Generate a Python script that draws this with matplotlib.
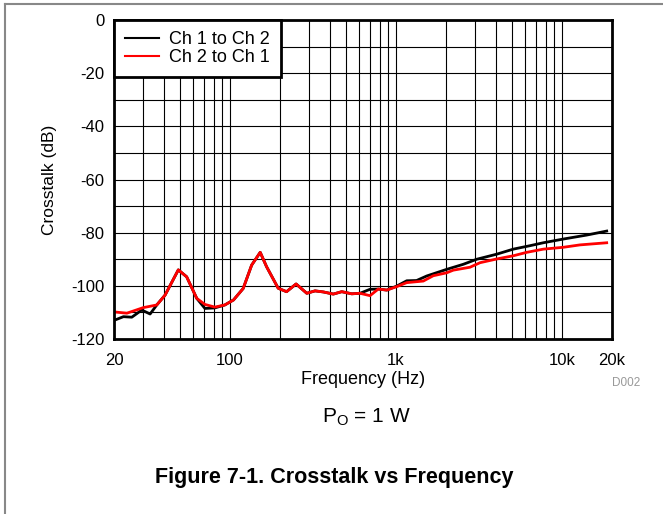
import matplotlib
matplotlib.use("Agg")
import matplotlib.pyplot as plt
from matplotlib.lines import Line2D
from matplotlib.ticker import FixedLocator, NullFormatter

plt.rcParams['font.family'] = ['Liberation Sans', 'DejaVu Sans']
plt.rcParams['axes.unicode_minus'] = False

# Ch 1 to Ch 2 (black)
freq_12 = [20, 22.8, 25.6, 29.4, 33, 36.2, 40.6, 48.8, 54.8, 63, 70.6, 81, 93, 105,
           120, 135, 152, 166, 195, 219, 250, 290, 325, 365, 419, 471, 541, 607,
           697, 782, 879, 1009, 1160, 1330, 1530, 2019, 2542, 3062, 4038, 5083,
           6412, 7710, 10180, 14090, 18580]
db_12 = [-113, -111.6, -111.8, -109.1, -110.6, -107.2, -103.5, -94.0, -96.6, -104.7,
         -108.5, -108.3, -107.2, -105.3, -101, -92.2, -87.4, -92.8, -100.9, -102.2,
         -99.3, -102.8, -101.9, -102.3, -103.1, -102.2, -103.0, -102.8, -101.3,
         -101.2, -101.6, -100.1, -98.1, -98.0, -96.3, -93.8, -91.9, -90.0, -88.1,
         -86.2, -84.9, -83.8, -82.4, -80.9, -79.4]

# Ch 2 to Ch 1 (red)
freq_21 = [20, 23.9, 30, 36.2, 40.6, 48.8, 54.8, 63, 70.6, 81, 93, 105, 120, 135,
           152, 166, 195, 219, 250, 290, 325, 365, 419, 471, 541, 607, 697, 782,
           879, 1009, 1160, 1460, 1676, 2019, 2214, 2790, 3206, 4038, 5083, 6125,
           7710, 10180, 12820, 18580]
db_21 = [-109.8, -110.3, -108.2, -107.2, -103.5, -94.0, -96.6, -104.7, -107, -108,
         -107.2, -105.3, -101, -92.2, -87.4, -92.8, -100.9, -102.2, -99.3, -102.8,
         -101.9, -102.3, -103.1, -102.2, -103.0, -102.8, -103.7, -101.2, -101.6,
         -100.3, -98.8, -98.2, -96.2, -95.1, -94.1, -93.0, -91.3, -89.9, -88.7,
         -87.4, -86.2, -85.5, -84.6, -83.8]

x_labels = {20: '20', 100: '100', 1000: '1k', 10000: '10k', 20000: '20k'}
x_grid = [20, 30, 40, 50, 60, 70, 80, 90, 100, 200, 300, 400, 500, 600, 700, 800, 900,
          1000, 2000, 3000, 4000, 5000, 6000, 7000, 8000, 9000, 10000, 20000]
y_ticks = [-120, -100, -80, -60, -40, -20, 0]
y_grid = [-110, -90, -70, -50, -30, -10]

fig = plt.figure(figsize=(6.63, 5.14), dpi=100)
ax = fig.add_axes([114 / 663, 1 - 339 / 514, 498 / 663, 319 / 514])

ax.plot(freq_12, db_12, color='black', lw=2, label='Ch 1 to Ch 2')
ax.plot(freq_21, db_21, color='#ff0000', lw=2, label='Ch 2 to Ch 1')

ax.set_xscale('log')
ax.set_xlim(20, 20000)
ax.set_ylim(-120, 0)
ax.set_xticks(list(x_labels.keys()))
ax.set_xticklabels(list(x_labels.values()))
ax.xaxis.set_minor_formatter(NullFormatter())
ax.xaxis.set_minor_locator(FixedLocator(x_grid))
ax.set_yticks(y_ticks)
ax.yaxis.set_minor_locator(FixedLocator(y_grid))
ax.grid(True, which='both', color='black', lw=0.8)
ax.tick_params(which='both', length=0, labelsize=12)
ax.tick_params(axis='y', pad=7)
ax.tick_params(axis='x', pad=10)
for s in ax.spines.values():
    s.set_linewidth(2)

ax.set_xlabel('Frequency (Hz)', fontsize=13, labelpad=2)
ax.set_ylabel('Crosstalk (dB)', fontsize=12.5, labelpad=10)

leg = ax.legend(loc='upper left', fontsize=13, borderaxespad=0, fancybox=False,
                framealpha=1, edgecolor='black', handlelength=1.9, handletextpad=0.55,
                borderpad=0.6, labelspacing=0.08)
leg.get_frame().set_linewidth(2)
for h in leg.get_lines():
    h.set_linewidth(1.5)

fig.text(640 / 663, 1 - 383 / 514, 'D002', fontsize=8.5, color='#999999',
         ha='right', va='center')
fig.text(366 / 663, 1 - 417 / 514, r'P$_\mathregular{O}$ = 1 W', fontsize=15,
         ha='center', va='center')
fig.text(334 / 663, 1 - 477 / 514, 'Figure 7-1. Crosstalk vs Frequency', fontsize=15.5,
         fontweight='bold', ha='center', va='center')

# frame of the figure box (left and top edges only in the crop)
fig.add_artist(Line2D([4.5 / 663, 4.5 / 663], [0, 1 - 3.5 / 514], color='#888888', lw=1.5))
fig.add_artist(Line2D([4.5 / 663, 1], [1 - 3.5 / 514, 1 - 3.5 / 514], color='#888888', lw=1.5))

fig.savefig('out.png', dpi=100)
